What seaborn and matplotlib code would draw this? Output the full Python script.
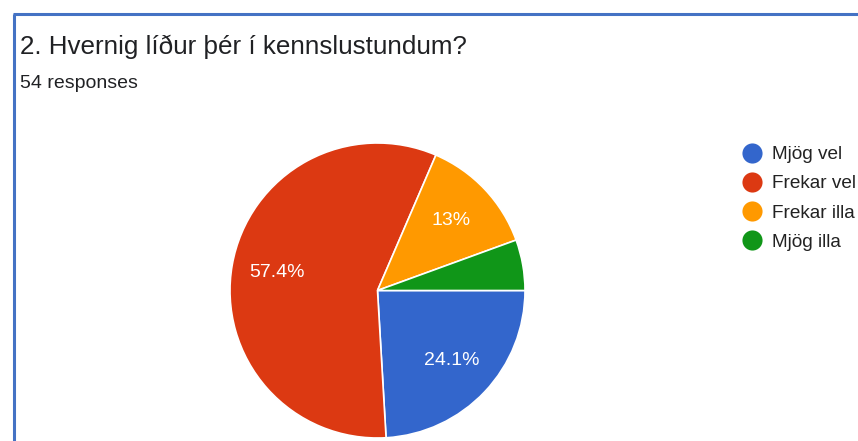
import matplotlib
matplotlib.use("Agg")
import matplotlib.pyplot as plt
from matplotlib.lines import Line2D
import seaborn as sns

# Data
categories = ["Mjög vel", "Frekar vel", "Frekar illa", "Mjög illa"]
counts = [13, 31, 7, 3]
colors = ["#3366cc", "#dc3912", "#ff9900", "#109618"]
title = "2. Hvernig líður þér í kennslustundum?"
subtitle = "54 responses"

sns.set_style("white")
plt.rcParams["font.family"] = ["Liberation Sans", "DejaVu Sans"]

W, H = 858, 441
fig = plt.figure(figsize=(W / 100, H / 100), dpi=100)
fig.patch.set_facecolor("white")

# Frame lines (left and top)
border = "#4472c4"
fig.add_artist(Line2D([14.3 / W, 14.3 / W], [0, (H - 14.3) / H], color=border, lw=2.2,
                      transform=fig.transFigure, solid_capstyle="butt"))
fig.add_artist(Line2D([13.2 / W, 1], [(H - 14.3) / H, (H - 14.3) / H], color=border, lw=2.2,
                      transform=fig.transFigure, solid_capstyle="butt"))

fig.text(20 / W, (H - 54) / H, title, fontsize=18.7, color="#202124",
         va="baseline", ha="left")
fig.text(20 / W, (H - 87.5) / H, subtitle, fontsize=14, color="#202124",
         va="baseline", ha="left")

# Pie
cx, cy, r = 377.5, 290.5, 147.5
ax = fig.add_axes([(cx - r) / W, (H - cy - r) / H, 2 * r / W, 2 * r / H])
ax.axis("off")


def fmt(p):
    if p < 6:
        return ""
    s = f"{p:.1f}"
    if s.endswith(".0"):
        s = s[:-2]
    return s + "%"


wedges, texts, autotexts = ax.pie(
    counts, colors=colors, startangle=0, counterclock=False, radius=1,
    autopct=fmt, pctdistance=0.69,
    wedgeprops=dict(edgecolor="white", linewidth=1.2),
    textprops=dict(color="white", fontsize=14),
    frame=False,
)
ax.set_xlim(-1, 1)
ax.set_ylim(-1, 1)
ax.set_aspect("auto")

# Legend
lx_c, lx_t = 752, 772
ly0, dy = 152.5, 29.3
for i, (lab, col) in enumerate(zip(categories, colors)):
    y = ly0 + i * dy
    fig.add_artist(Line2D([lx_c / W], [(H - y) / H], marker="o", markersize=14.5,
                          color=col, markeredgewidth=0, linestyle="none",
                          transform=fig.transFigure))
    fig.text(lx_t / W, (H - y) / H, lab, fontsize=13.7, color="#222222",
             va="center_baseline", ha="left")

fig.savefig("out.png", dpi=100, facecolor="white")
